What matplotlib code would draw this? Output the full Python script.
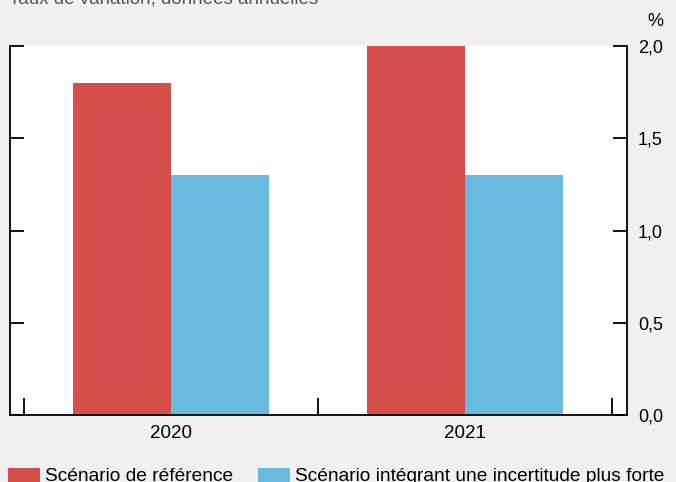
import matplotlib
matplotlib.use("Agg")
import matplotlib.pyplot as plt
from matplotlib.patches import Rectangle
import numpy as np

plt.rcParams["font.family"] = ["Liberation Sans", "DejaVu Sans"]

YEARS = ["2020", "2021"]
SERIES = ["Scénario de référence", "Scénario intégrant une incertitude plus forte"]
REFERENCE = [1.8, 2.0]
HIGH_UNCERTAINTY = [1.3, 1.3]
COLORS = ["#d64f4a", "#69badf"]
Y_TICKS = [0.0, 0.5, 1.0, 1.5, 2.0]
TITLE = "Taux de variation, données annuelles"

W, H = 676, 482
fig = plt.figure(figsize=(W / 100, H / 100), dpi=100, facecolor="#f0f0f0")
ax = fig.add_axes([9.5 / W, (H - 415) / H, (627 - 9.5) / W, (415 - 46) / H])
ax.set_facecolor("white")

x = np.arange(len(YEARS))
bw = 1 / 3
for i, (vals, col) in enumerate(zip([REFERENCE, HIGH_UNCERTAINTY], COLORS)):
    ax.bar(x + (i - 0.5) * bw, vals, width=bw, color=col, lw=0)

ax.set_xlim(-0.55, 1.55)
ax.set_ylim(0, 2.0)
ax.set_xticks(x)
ax.set_xticklabels(YEARS)
ax.set_xticks([-0.5, 0.5, 1.5], minor=True)
ax.tick_params(axis="x", which="major", length=0, pad=7, labelsize=13.5)
ax.tick_params(axis="x", which="minor", direction="in", length=12, width=1.3)

ax.set_yticks(Y_TICKS)
ax.set_yticklabels([f"{v:.1f}".replace(".", ",") for v in Y_TICKS])
ax.tick_params(axis="y", left=True, right=True, labelleft=False, labelright=True,
               direction="in", length=10, width=1.3, pad=8, labelsize=13)

ax.spines["top"].set_visible(False)
for s in ("left", "right", "bottom"):
    ax.spines[s].set_linewidth(1.3)

fig.text(655 / W, 1 - 26 / H, "%", ha="center", va="baseline", fontsize=13)
fig.text(9 / W, 1 - 3 / H, TITLE, ha="left", va="baseline", fontsize=13.5, color="#555555")

# legend along the bottom edge
leg_x = [8, 258]
for lx, col, lab in zip(leg_x, COLORS, SERIES):
    fig.patches.append(Rectangle((lx / W, 0), 32 / W, 14 / H, transform=fig.transFigure,
                                 color=col, lw=0))
    fig.text((lx + 37) / W, 1 - 481 / H, lab, ha="left", va="baseline", fontsize=13.8)

fig.savefig("out.png", dpi=100, facecolor=fig.get_facecolor())
